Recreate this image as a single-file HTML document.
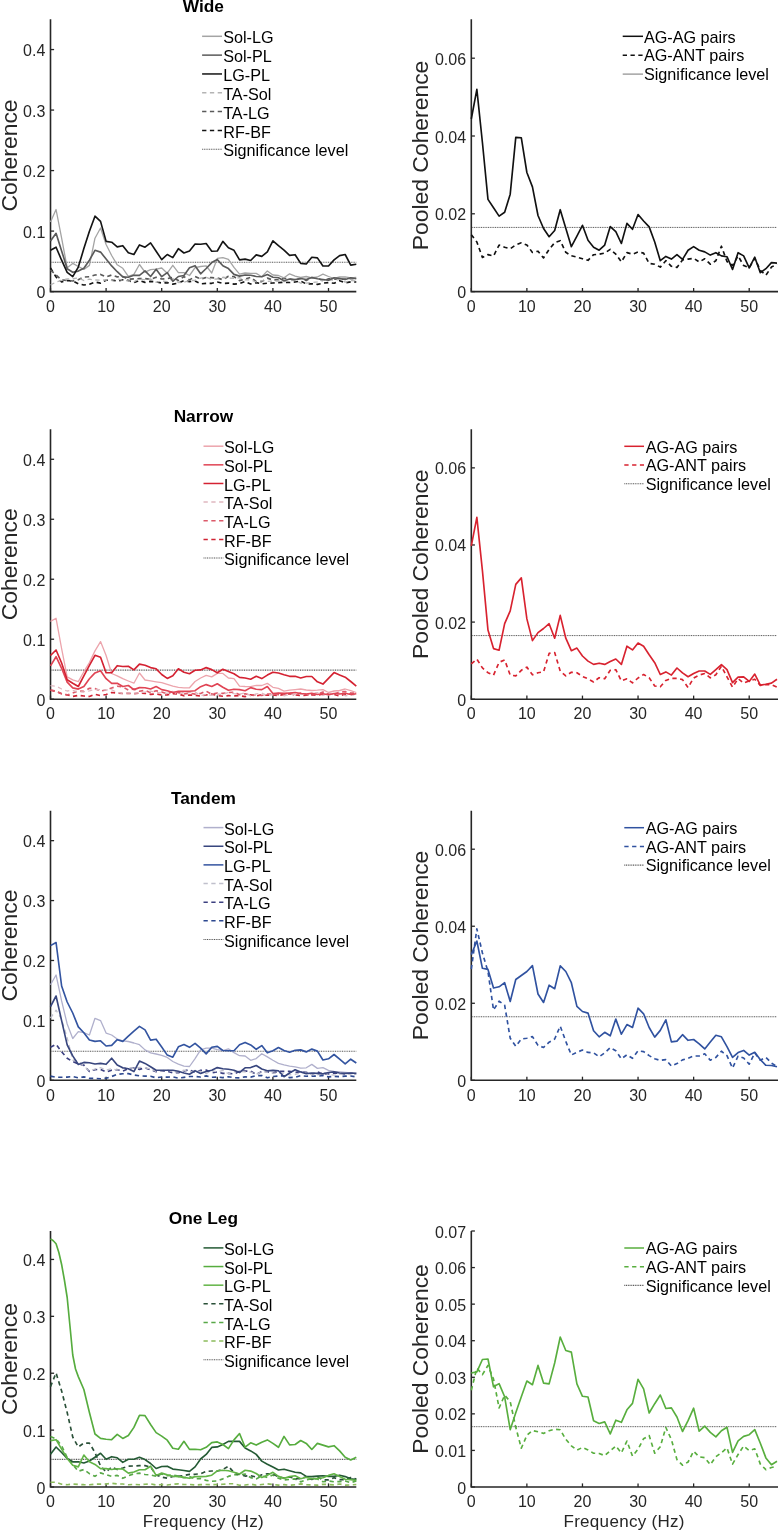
<!DOCTYPE html>
<html><head><meta charset="utf-8"><style>
html,body{margin:0;padding:0;background:#fff;overflow:hidden}
svg{display:block;will-change:transform}
text{font-family:"Liberation Sans", sans-serif}
</style></head><body>
<svg width="778" height="1531" viewBox="0 0 778 1531">
<rect width="778" height="1531" fill="#fff"/>
<line x1="50.5" y1="291.60" x2="54.1" y2="291.60" stroke="#262626" stroke-width="1.3"/>
<text x="45.30" y="298.10" text-anchor="end" font-size="16" fill="#262626">0</text>
<line x1="50.5" y1="231.09" x2="54.1" y2="231.09" stroke="#262626" stroke-width="1.3"/>
<text x="45.30" y="237.59" text-anchor="end" font-size="16" fill="#262626">0.1</text>
<line x1="50.5" y1="170.58" x2="54.1" y2="170.58" stroke="#262626" stroke-width="1.3"/>
<text x="45.30" y="177.08" text-anchor="end" font-size="16" fill="#262626">0.2</text>
<line x1="50.5" y1="110.07" x2="54.1" y2="110.07" stroke="#262626" stroke-width="1.3"/>
<text x="45.30" y="116.57" text-anchor="end" font-size="16" fill="#262626">0.3</text>
<line x1="50.5" y1="49.56" x2="54.1" y2="49.56" stroke="#262626" stroke-width="1.3"/>
<text x="45.30" y="56.06" text-anchor="end" font-size="16" fill="#262626">0.4</text>
<line x1="50.50" y1="291.6" x2="50.50" y2="288.0" stroke="#262626" stroke-width="1.3"/>
<text x="50.50" y="311.80" text-anchor="middle" font-size="16" fill="#262626">0</text>
<line x1="106.10" y1="291.6" x2="106.10" y2="288.0" stroke="#262626" stroke-width="1.3"/>
<text x="106.10" y="311.80" text-anchor="middle" font-size="16" fill="#262626">10</text>
<line x1="161.70" y1="291.6" x2="161.70" y2="288.0" stroke="#262626" stroke-width="1.3"/>
<text x="161.70" y="311.80" text-anchor="middle" font-size="16" fill="#262626">20</text>
<line x1="217.30" y1="291.6" x2="217.30" y2="288.0" stroke="#262626" stroke-width="1.3"/>
<text x="217.30" y="311.80" text-anchor="middle" font-size="16" fill="#262626">30</text>
<line x1="272.90" y1="291.6" x2="272.90" y2="288.0" stroke="#262626" stroke-width="1.3"/>
<text x="272.90" y="311.80" text-anchor="middle" font-size="16" fill="#262626">40</text>
<line x1="328.50" y1="291.6" x2="328.50" y2="288.0" stroke="#262626" stroke-width="1.3"/>
<text x="328.50" y="311.80" text-anchor="middle" font-size="16" fill="#262626">50</text>
<path d="M50.5 19.3 L50.5 291.6 L356.3 291.6" fill="none" stroke="#262626" stroke-width="1.6"/>
<text x="17.2" y="155.45" transform="rotate(-90 17.2 155.45)" text-anchor="middle" font-size="22.9" fill="#262626">Coherence</text>
<text x="203.40" y="12.30" text-anchor="middle" font-size="17.3" font-weight="bold" fill="#000">Wide</text>
<line x1="202.1" y1="36.30" x2="222.0" y2="36.30" stroke="#a4a4a4" stroke-width="1.5"/>
<text x="223.2" y="43.40" font-size="16.2" fill="#000">Sol-LG</text>
<line x1="202.1" y1="55.13" x2="222.0" y2="55.13" stroke="#5a5a5a" stroke-width="1.5"/>
<text x="223.2" y="62.23" font-size="16.2" fill="#000">Sol-PL</text>
<line x1="202.1" y1="73.96" x2="222.0" y2="73.96" stroke="#141414" stroke-width="1.5"/>
<text x="223.2" y="81.06" font-size="16.2" fill="#000">LG-PL</text>
<line x1="202.1" y1="92.79" x2="222.0" y2="92.79" stroke="#b4b4b4" stroke-width="1.5" stroke-dasharray="4.3 3.5"/>
<text x="223.2" y="99.89" font-size="16.2" fill="#000">TA-Sol</text>
<line x1="202.1" y1="111.62" x2="222.0" y2="111.62" stroke="#5a5a5a" stroke-width="1.5" stroke-dasharray="4.3 3.5"/>
<text x="223.2" y="118.72" font-size="16.2" fill="#000">TA-LG</text>
<line x1="202.1" y1="130.45" x2="222.0" y2="130.45" stroke="#141414" stroke-width="1.5" stroke-dasharray="4.3 3.5"/>
<text x="223.2" y="137.55" font-size="16.2" fill="#000">RF-BF</text>
<line x1="202.1" y1="149.28" x2="222.0" y2="149.28" stroke="#555" stroke-width="1.1" stroke-dasharray="1 0.75"/>
<text x="223.2" y="156.38" font-size="16.2" fill="#000">Significance level</text>
<line x1="51.5" y1="262.25" x2="356.3" y2="262.25" stroke="#5a5a5a" stroke-width="1.1" stroke-dasharray="1 0.75"/>
<polyline points="50.50,268.00 56.06,277.00 61.62,282.00 67.18,280.54 72.74,281.00 78.30,283.74 83.86,285.00 89.42,284.24 94.98,282.00 100.54,283.15 106.10,280.24 111.66,280.17 117.22,281.00 122.78,279.84 128.34,280.40 133.90,282.69 139.46,280.52 145.02,282.38 150.58,281.36 156.14,281.93 161.70,283.00 167.26,282.63 172.82,284.15 178.38,283.13 183.94,280.66 189.50,281.60 195.06,280.99 200.62,283.79 206.18,283.44 211.74,283.32 217.30,282.00 222.86,283.41 228.42,283.18 233.98,284.10 239.54,283.58 245.10,281.53 250.66,284.00 256.22,282.65 261.78,283.82 267.34,283.16 272.90,283.00 278.46,282.65 284.02,282.32 289.58,282.52 295.14,281.99 300.70,281.14 306.26,283.88 311.82,283.73 317.38,284.41 322.94,283.16 328.50,282.55 334.06,283.26 339.62,280.74 345.18,282.84 350.74,281.84 356.30,282.00" fill="none" stroke="#141414" stroke-width="1.65" stroke-linejoin="round" stroke-dasharray="4.3 3.5"/>
<polyline points="50.50,270.00 56.06,275.00 61.62,280.00 67.18,280.39 72.74,281.00 78.30,279.69 83.86,277.00 89.42,276.73 94.98,275.00 100.54,274.43 106.10,277.00 111.66,275.05 117.22,276.85 122.78,276.61 128.34,279.17 133.90,278.84 139.46,278.65 145.02,278.66 150.58,279.31 156.14,277.24 161.70,279.00 167.26,278.64 172.82,277.31 178.38,280.49 183.94,276.66 189.50,279.90 195.06,276.53 200.62,279.12 206.18,277.48 211.74,277.68 217.30,278.00 222.86,279.71 228.42,276.28 233.98,276.67 239.54,280.63 245.10,279.04 250.66,277.40 256.22,281.54 261.78,281.57 267.34,278.10 272.90,280.00 278.46,279.60 284.02,278.26 289.58,278.98 295.14,280.27 300.70,278.19 306.26,280.47 311.82,277.56 317.38,278.02 322.94,280.79 328.50,278.90 334.06,278.91 339.62,279.62 345.18,279.03 350.74,278.56 356.30,279.00" fill="none" stroke="#5a5a5a" stroke-width="1.65" stroke-linejoin="round" stroke-dasharray="4.3 3.5"/>
<polyline points="50.50,285.00 56.06,282.00 61.62,280.29 67.18,279.00 72.74,278.76 78.30,278.00 83.86,280.53 89.42,279.18 94.98,280.00 100.54,280.03 106.10,280.00 111.66,280.48 117.22,278.81 122.78,280.35 128.34,280.97 133.90,281.79 139.46,278.81 145.02,279.83 150.58,279.00 156.14,282.26 161.70,281.00 167.26,281.65 172.82,278.58 178.38,282.52 183.94,282.24 189.50,280.68 195.06,280.31 200.62,278.09 206.18,277.27 211.74,279.32 217.30,279.00 222.86,277.26 228.42,278.04 233.98,278.46 239.54,277.73 245.10,279.84 250.66,279.94 256.22,281.91 261.78,280.68 267.34,281.42 272.90,281.00 278.46,281.00 284.02,281.71 289.58,280.81 295.14,280.02 300.70,283.19 306.26,283.18 311.82,282.50 317.38,281.91 322.94,280.19 328.50,279.81 334.06,280.07 339.62,279.11 345.18,282.17 350.74,280.56 356.30,281.00" fill="none" stroke="#b4b4b4" stroke-width="1.3" stroke-linejoin="round" stroke-dasharray="4.3 3.5"/>
<polyline points="50.50,222.00 56.06,209.50 61.62,238.20 67.18,267.70 72.74,263.40 78.30,266.50 83.86,269.40 89.42,265.40 94.98,238.20 100.54,228.00 106.10,244.50 111.66,255.50 117.22,264.80 122.78,268.30 128.34,276.40 133.90,274.40 139.46,264.50 145.02,272.10 150.58,269.70 156.14,269.20 161.70,268.00 167.26,273.20 172.82,265.30 178.38,272.60 183.94,272.60 189.50,275.50 195.06,267.70 200.62,266.50 206.18,265.90 211.74,273.00 217.30,258.40 222.86,257.60 228.42,259.30 233.98,267.40 239.54,274.10 245.10,273.00 250.66,273.40 256.22,273.40 261.78,276.70 267.34,270.90 272.90,275.00 278.46,275.50 284.02,277.80 289.58,273.80 295.14,276.10 300.70,277.50 306.26,276.50 311.82,278.00 317.38,277.00 322.94,274.10 328.50,276.50 334.06,278.50 339.62,277.00 345.18,276.90 350.74,278.00 356.30,277.50" fill="none" stroke="#a4a4a4" stroke-width="1.3" stroke-linejoin="round"/>
<polyline points="50.50,241.10 56.06,233.30 61.62,250.90 67.18,268.80 72.74,272.30 78.30,271.10 83.86,268.30 89.42,260.20 94.98,250.30 100.54,252.10 106.10,259.00 111.66,265.90 117.22,271.70 122.78,276.90 128.34,277.30 133.90,275.30 139.46,275.30 145.02,270.90 150.58,276.50 156.14,269.20 161.70,276.70 167.26,272.60 172.82,281.30 178.38,276.50 183.94,275.50 189.50,267.70 195.06,265.70 200.62,273.80 206.18,268.50 211.74,262.60 217.30,259.60 222.86,265.70 228.42,268.60 233.98,274.40 239.54,276.10 245.10,275.00 250.66,275.30 256.22,276.50 261.78,276.70 267.34,274.60 272.90,277.30 278.46,277.80 284.02,280.70 289.58,279.00 295.14,279.60 300.70,278.50 306.26,279.50 311.82,277.50 317.38,278.80 322.94,279.50 328.50,280.20 334.06,277.80 339.62,278.50 345.18,279.50 350.74,277.80 356.30,278.80" fill="none" stroke="#5a5a5a" stroke-width="1.65" stroke-linejoin="round"/>
<polyline points="50.50,250.30 56.06,247.20 61.62,260.20 67.18,272.30 72.74,276.60 78.30,267.10 83.86,248.60 89.42,231.20 94.98,216.20 100.54,221.40 106.10,241.40 111.66,242.20 117.22,246.90 122.78,245.70 128.34,252.80 133.90,254.50 139.46,244.90 145.02,247.20 150.58,242.90 156.14,251.20 161.70,259.60 167.26,254.50 172.82,257.60 178.38,248.70 183.94,253.00 189.50,251.00 195.06,244.10 200.62,244.30 206.18,243.50 211.74,251.20 217.30,251.00 222.86,241.40 228.42,247.80 233.98,250.30 239.54,259.90 245.10,259.10 250.66,260.50 256.22,254.90 261.78,256.40 267.34,251.80 272.90,240.80 278.46,245.70 284.02,250.20 289.58,255.40 295.14,254.70 300.70,263.40 306.26,264.00 311.82,257.30 317.38,257.90 322.94,266.00 328.50,266.00 334.06,259.90 339.62,255.60 345.18,254.50 350.74,265.10 356.30,264.20" fill="none" stroke="#141414" stroke-width="1.65" stroke-linejoin="round"/>
<line x1="471.3" y1="291.60" x2="474.90000000000003" y2="291.60" stroke="#262626" stroke-width="1.3"/>
<text x="466.10" y="298.10" text-anchor="end" font-size="16" fill="#262626">0</text>
<line x1="471.3" y1="213.80" x2="474.90000000000003" y2="213.80" stroke="#262626" stroke-width="1.3"/>
<text x="466.10" y="220.30" text-anchor="end" font-size="16" fill="#262626">0.02</text>
<line x1="471.3" y1="136.00" x2="474.90000000000003" y2="136.00" stroke="#262626" stroke-width="1.3"/>
<text x="466.10" y="142.50" text-anchor="end" font-size="16" fill="#262626">0.04</text>
<line x1="471.3" y1="58.20" x2="474.90000000000003" y2="58.20" stroke="#262626" stroke-width="1.3"/>
<text x="466.10" y="64.70" text-anchor="end" font-size="16" fill="#262626">0.06</text>
<line x1="471.30" y1="291.6" x2="471.30" y2="288.0" stroke="#262626" stroke-width="1.3"/>
<text x="471.30" y="311.80" text-anchor="middle" font-size="16" fill="#262626">0</text>
<line x1="526.88" y1="291.6" x2="526.88" y2="288.0" stroke="#262626" stroke-width="1.3"/>
<text x="526.88" y="311.80" text-anchor="middle" font-size="16" fill="#262626">10</text>
<line x1="582.46" y1="291.6" x2="582.46" y2="288.0" stroke="#262626" stroke-width="1.3"/>
<text x="582.46" y="311.80" text-anchor="middle" font-size="16" fill="#262626">20</text>
<line x1="638.05" y1="291.6" x2="638.05" y2="288.0" stroke="#262626" stroke-width="1.3"/>
<text x="638.05" y="311.80" text-anchor="middle" font-size="16" fill="#262626">30</text>
<line x1="693.63" y1="291.6" x2="693.63" y2="288.0" stroke="#262626" stroke-width="1.3"/>
<text x="693.63" y="311.80" text-anchor="middle" font-size="16" fill="#262626">40</text>
<line x1="749.21" y1="291.6" x2="749.21" y2="288.0" stroke="#262626" stroke-width="1.3"/>
<text x="749.21" y="311.80" text-anchor="middle" font-size="16" fill="#262626">50</text>
<path d="M471.3 19.3 L471.3 291.6 L779.0 291.6" fill="none" stroke="#262626" stroke-width="1.6"/>
<text x="428.3" y="155.45" transform="rotate(-90 428.3 155.45)" text-anchor="middle" font-size="22.9" fill="#262626">Pooled Coherence</text>
<line x1="472.3" y1="227.42" x2="777.0" y2="227.42" stroke="#555" stroke-width="1" stroke-dasharray="1 0.75"/>
<polyline points="471.30,234.70 476.86,242.00 482.42,257.50 487.97,254.60 493.53,256.00 499.09,245.00 504.65,247.20 510.21,248.70 515.77,245.00 521.32,242.80 526.88,245.00 532.44,252.40 538.00,251.20 543.56,257.90 549.11,249.40 554.67,242.70 560.23,240.70 565.79,252.30 571.35,255.80 576.91,257.10 582.46,258.70 588.02,260.30 593.58,254.70 599.14,254.20 604.70,253.10 610.25,249.40 615.81,254.20 621.37,261.90 626.93,252.60 632.49,254.20 638.05,252.00 643.60,253.10 649.16,263.50 654.72,264.20 660.28,267.10 665.84,260.70 671.39,266.30 676.95,267.40 682.51,259.90 688.07,259.10 693.63,258.30 699.19,262.00 704.74,258.80 710.30,264.20 715.86,260.70 721.42,246.20 726.98,261.50 732.53,265.50 738.09,255.90 743.65,265.50 749.21,267.90 754.77,258.30 760.33,270.30 765.88,275.20 771.44,267.10 777.00,264.20" fill="none" stroke="#111111" stroke-width="1.65" stroke-linejoin="round" stroke-dasharray="4.3 3.5"/>
<polyline points="471.30,119.00 476.86,89.30 482.42,142.50 487.97,199.40 493.53,207.80 499.09,216.10 504.65,212.30 510.21,194.20 515.77,137.40 521.32,137.80 526.88,172.50 532.44,186.90 538.00,215.50 543.56,228.50 549.11,236.70 554.67,230.50 560.23,209.70 565.79,228.20 571.35,246.70 576.91,236.20 582.46,225.30 588.02,240.30 593.58,247.20 599.14,250.20 604.70,245.10 610.25,226.60 615.81,231.70 621.37,243.50 626.93,223.40 632.49,229.30 638.05,214.50 643.60,221.00 649.16,226.90 654.72,242.00 660.28,260.70 665.84,256.40 671.39,259.10 676.95,254.70 682.51,259.40 688.07,250.30 693.63,246.60 699.19,250.30 704.74,251.90 710.30,255.10 715.86,252.70 721.42,255.90 726.98,256.70 732.53,269.50 738.09,252.70 743.65,255.90 749.21,267.90 754.77,257.20 760.33,272.70 765.88,268.70 771.44,262.60 777.00,263.10" fill="none" stroke="#111111" stroke-width="1.65" stroke-linejoin="round"/>
<line x1="622.7" y1="36.30" x2="643.0" y2="36.30" stroke="#111111" stroke-width="1.5"/>
<text x="643.9" y="42.50" font-size="16.2" fill="#000">AG-AG pairs</text>
<line x1="622.7" y1="55.20" x2="643.0" y2="55.20" stroke="#111111" stroke-width="1.5" stroke-dasharray="4.3 3.5"/>
<text x="643.9" y="61.40" font-size="16.2" fill="#000">AG-ANT pairs</text>
<line x1="622.7" y1="74.10" x2="643.0" y2="74.10" stroke="#8c8c8c" stroke-width="1.2"/>
<text x="643.9" y="80.30" font-size="16.2" fill="#000">Significance level</text>
<line x1="50.5" y1="699.20" x2="54.1" y2="699.20" stroke="#262626" stroke-width="1.3"/>
<text x="45.30" y="705.70" text-anchor="end" font-size="16" fill="#262626">0</text>
<line x1="50.5" y1="639.22" x2="54.1" y2="639.22" stroke="#262626" stroke-width="1.3"/>
<text x="45.30" y="645.72" text-anchor="end" font-size="16" fill="#262626">0.1</text>
<line x1="50.5" y1="579.24" x2="54.1" y2="579.24" stroke="#262626" stroke-width="1.3"/>
<text x="45.30" y="585.74" text-anchor="end" font-size="16" fill="#262626">0.2</text>
<line x1="50.5" y1="519.27" x2="54.1" y2="519.27" stroke="#262626" stroke-width="1.3"/>
<text x="45.30" y="525.77" text-anchor="end" font-size="16" fill="#262626">0.3</text>
<line x1="50.5" y1="459.29" x2="54.1" y2="459.29" stroke="#262626" stroke-width="1.3"/>
<text x="45.30" y="465.79" text-anchor="end" font-size="16" fill="#262626">0.4</text>
<line x1="50.50" y1="699.2" x2="50.50" y2="695.6" stroke="#262626" stroke-width="1.3"/>
<text x="50.50" y="719.40" text-anchor="middle" font-size="16" fill="#262626">0</text>
<line x1="106.10" y1="699.2" x2="106.10" y2="695.6" stroke="#262626" stroke-width="1.3"/>
<text x="106.10" y="719.40" text-anchor="middle" font-size="16" fill="#262626">10</text>
<line x1="161.70" y1="699.2" x2="161.70" y2="695.6" stroke="#262626" stroke-width="1.3"/>
<text x="161.70" y="719.40" text-anchor="middle" font-size="16" fill="#262626">20</text>
<line x1="217.30" y1="699.2" x2="217.30" y2="695.6" stroke="#262626" stroke-width="1.3"/>
<text x="217.30" y="719.40" text-anchor="middle" font-size="16" fill="#262626">30</text>
<line x1="272.90" y1="699.2" x2="272.90" y2="695.6" stroke="#262626" stroke-width="1.3"/>
<text x="272.90" y="719.40" text-anchor="middle" font-size="16" fill="#262626">40</text>
<line x1="328.50" y1="699.2" x2="328.50" y2="695.6" stroke="#262626" stroke-width="1.3"/>
<text x="328.50" y="719.40" text-anchor="middle" font-size="16" fill="#262626">50</text>
<path d="M50.5 429.3 L50.5 699.2 L356.3 699.2" fill="none" stroke="#262626" stroke-width="1.6"/>
<text x="17.2" y="564.25" transform="rotate(-90 17.2 564.25)" text-anchor="middle" font-size="22.9" fill="#262626">Coherence</text>
<text x="203.40" y="422.30" text-anchor="middle" font-size="17.3" font-weight="bold" fill="#000">Narrow</text>
<line x1="203.5" y1="446.20" x2="223.4" y2="446.20" stroke="#eca4ac" stroke-width="1.5"/>
<text x="224.0" y="453.30" font-size="16.2" fill="#000">Sol-LG</text>
<line x1="203.5" y1="464.84" x2="223.4" y2="464.84" stroke="#e04454" stroke-width="1.5"/>
<text x="224.0" y="471.94" font-size="16.2" fill="#000">Sol-PL</text>
<line x1="203.5" y1="483.48" x2="223.4" y2="483.48" stroke="#d42232" stroke-width="1.5"/>
<text x="224.0" y="490.58" font-size="16.2" fill="#000">LG-PL</text>
<line x1="203.5" y1="502.12" x2="223.4" y2="502.12" stroke="#e0b8c0" stroke-width="1.5" stroke-dasharray="4.3 3.5"/>
<text x="224.0" y="509.22" font-size="16.2" fill="#000">TA-Sol</text>
<line x1="203.5" y1="520.76" x2="223.4" y2="520.76" stroke="#dc5a6a" stroke-width="1.5" stroke-dasharray="4.3 3.5"/>
<text x="224.0" y="527.86" font-size="16.2" fill="#000">TA-LG</text>
<line x1="203.5" y1="539.40" x2="223.4" y2="539.40" stroke="#d02434" stroke-width="1.5" stroke-dasharray="4.3 3.5"/>
<text x="224.0" y="546.50" font-size="16.2" fill="#000">RF-BF</text>
<line x1="203.5" y1="558.04" x2="223.4" y2="558.04" stroke="#555" stroke-width="1.1" stroke-dasharray="1 0.75"/>
<text x="224.0" y="565.14" font-size="16.2" fill="#000">Significance level</text>
<line x1="51.5" y1="670.11" x2="356.3" y2="670.11" stroke="#5a5a5a" stroke-width="1.1" stroke-dasharray="1 0.75"/>
<polyline points="50.50,690.20 56.06,691.40 61.62,693.70 67.18,694.90 72.74,696.42 78.30,695.40 83.86,696.00 89.42,696.50 94.98,694.30 100.54,695.58 106.10,694.50 111.66,692.50 117.22,693.00 122.78,693.53 128.34,693.27 133.90,693.84 139.46,692.89 145.02,693.33 150.58,694.33 156.14,693.91 161.70,695.00 167.26,694.92 172.82,693.67 178.38,693.91 183.94,695.83 189.50,695.01 195.06,695.34 200.62,696.05 206.18,694.98 211.74,694.12 217.30,695.50 222.86,696.30 228.42,695.67 233.98,695.82 239.54,695.66 245.10,696.66 250.66,694.79 256.22,695.93 261.78,694.71 267.34,695.27 272.90,695.00 278.46,695.48 284.02,694.44 289.58,693.76 295.14,694.92 300.70,695.65 306.26,695.27 311.82,694.84 317.38,695.43 322.94,694.05 328.50,694.04 334.06,694.47 339.62,695.95 345.18,694.09 350.74,693.84 356.30,695.00" fill="none" stroke="#d02434" stroke-width="1.65" stroke-linejoin="round" stroke-dasharray="4.3 3.5"/>
<polyline points="50.50,690.00 56.06,691.00 61.62,693.70 67.18,695.00 72.74,693.00 78.30,690.91 83.86,691.40 89.42,688.24 94.98,688.50 100.54,691.05 106.10,690.00 111.66,688.00 117.22,686.20 122.78,686.96 128.34,690.00 133.90,688.97 139.46,691.21 145.02,690.44 150.58,692.74 156.14,690.70 161.70,692.00 167.26,693.75 172.82,691.55 178.38,692.66 183.94,693.96 189.50,693.17 195.06,694.13 200.62,693.45 206.18,691.17 211.74,694.27 217.30,693.00 222.86,693.42 228.42,692.52 233.98,692.18 239.54,694.66 245.10,693.80 250.66,695.18 256.22,694.69 261.78,695.46 267.34,694.14 272.90,694.00 278.46,694.65 284.02,694.27 289.58,692.93 295.14,695.38 300.70,692.99 306.26,694.61 311.82,695.17 317.38,694.01 322.94,692.11 328.50,694.50 334.06,693.87 339.62,692.07 345.18,691.51 350.74,693.18 356.30,693.00" fill="none" stroke="#dc5a6a" stroke-width="1.65" stroke-linejoin="round" stroke-dasharray="4.3 3.5"/>
<polyline points="50.50,685.60 56.06,686.20 61.62,689.00 67.18,691.00 72.74,690.29 78.30,692.00 83.86,691.85 89.42,690.82 94.98,689.50 100.54,689.67 106.10,690.00 111.66,689.73 117.22,692.55 122.78,693.36 128.34,693.00 133.90,693.04 139.46,693.02 145.02,692.05 150.58,691.21 156.14,692.54 161.70,693.00 167.26,693.41 172.82,691.65 178.38,694.36 183.94,692.44 189.50,692.54 195.06,691.95 200.62,695.49 206.18,694.66 211.74,695.25 217.30,694.00 222.86,694.47 228.42,692.42 233.98,693.53 239.54,694.19 245.10,692.87 250.66,695.93 256.22,693.88 261.78,693.16 267.34,695.59 272.90,694.50 278.46,693.12 284.02,695.97 289.58,694.23 295.14,694.55 300.70,693.77 306.26,694.24 311.82,693.14 317.38,692.57 322.94,695.52 328.50,693.21 334.06,695.14 339.62,693.05 345.18,695.75 350.74,695.45 356.30,694.00" fill="none" stroke="#e0b8c0" stroke-width="1.3" stroke-linejoin="round" stroke-dasharray="4.3 3.5"/>
<polyline points="50.50,621.40 56.06,618.30 61.62,648.60 67.18,676.90 72.74,679.80 78.30,681.60 83.86,671.70 89.42,662.50 94.98,650.90 100.54,641.60 106.10,655.50 111.66,673.50 117.22,675.80 122.78,678.70 128.34,681.00 133.90,683.20 139.46,673.00 145.02,680.00 150.58,680.90 156.14,681.80 161.70,682.60 167.26,684.40 172.82,686.10 178.38,687.30 183.94,687.80 189.50,687.80 195.06,681.50 200.62,678.00 206.18,675.30 211.74,676.90 217.30,673.40 222.86,673.40 228.42,678.00 233.98,678.60 239.54,686.10 245.10,686.50 250.66,686.70 256.22,685.30 261.78,685.50 267.34,683.40 272.90,687.30 278.46,688.40 284.02,691.10 289.58,690.20 295.14,689.60 300.70,689.00 306.26,690.00 311.82,690.50 317.38,690.20 322.94,689.60 328.50,692.50 334.06,691.00 339.62,690.50 345.18,689.00 350.74,690.70 356.30,692.50" fill="none" stroke="#eca4ac" stroke-width="1.3" stroke-linejoin="round"/>
<polyline points="50.50,665.90 56.06,656.70 61.62,668.30 67.18,682.10 72.74,687.90 78.30,689.10 83.86,686.50 89.42,678.70 94.98,672.90 100.54,670.80 106.10,678.70 111.66,683.30 117.22,683.30 122.78,686.50 128.34,685.50 133.90,689.60 139.46,687.60 145.02,687.80 150.58,689.00 156.14,686.50 161.70,689.60 167.26,690.70 172.82,692.50 178.38,691.30 183.94,691.30 189.50,691.30 195.06,690.70 200.62,686.70 206.18,684.60 211.74,686.50 217.30,683.80 222.86,687.30 228.42,690.20 233.98,689.20 239.54,689.60 245.10,690.70 250.66,687.60 256.22,689.20 261.78,689.60 267.34,686.50 272.90,693.60 278.46,693.00 284.02,693.40 289.58,693.00 295.14,692.50 300.70,693.50 306.26,694.00 311.82,693.20 317.38,694.50 322.94,693.80 328.50,694.80 334.06,693.50 339.62,694.00 345.18,693.20 350.74,694.50 356.30,693.80" fill="none" stroke="#e04454" stroke-width="1.65" stroke-linejoin="round"/>
<polyline points="50.50,655.50 56.06,650.00 61.62,663.00 67.18,679.80 72.74,683.30 78.30,686.50 83.86,675.80 89.42,665.40 94.98,655.30 100.54,657.30 106.10,672.70 111.66,672.70 117.22,665.70 122.78,666.50 128.34,666.30 133.90,669.90 139.46,664.10 145.02,665.30 150.58,667.60 156.14,668.80 161.70,674.50 167.26,678.40 172.82,675.70 178.38,668.80 183.94,672.20 189.50,673.70 195.06,670.30 200.62,669.90 206.18,667.60 211.74,669.60 217.30,672.80 222.86,669.30 228.42,671.60 233.98,673.70 239.54,677.40 245.10,678.00 250.66,679.20 256.22,676.30 261.78,678.60 267.34,675.10 272.90,672.20 278.46,673.00 284.02,674.80 289.58,676.30 295.14,676.30 300.70,678.00 306.26,676.50 311.82,676.50 317.38,681.80 322.94,684.10 328.50,678.40 334.06,672.60 339.62,675.10 345.18,677.20 350.74,681.50 356.30,686.10" fill="none" stroke="#d42232" stroke-width="1.65" stroke-linejoin="round"/>
<line x1="471.3" y1="699.20" x2="474.90000000000003" y2="699.20" stroke="#262626" stroke-width="1.3"/>
<text x="466.10" y="705.70" text-anchor="end" font-size="16" fill="#262626">0</text>
<line x1="471.3" y1="622.09" x2="474.90000000000003" y2="622.09" stroke="#262626" stroke-width="1.3"/>
<text x="466.10" y="628.59" text-anchor="end" font-size="16" fill="#262626">0.02</text>
<line x1="471.3" y1="544.97" x2="474.90000000000003" y2="544.97" stroke="#262626" stroke-width="1.3"/>
<text x="466.10" y="551.47" text-anchor="end" font-size="16" fill="#262626">0.04</text>
<line x1="471.3" y1="467.86" x2="474.90000000000003" y2="467.86" stroke="#262626" stroke-width="1.3"/>
<text x="466.10" y="474.36" text-anchor="end" font-size="16" fill="#262626">0.06</text>
<line x1="471.30" y1="699.2" x2="471.30" y2="695.6" stroke="#262626" stroke-width="1.3"/>
<text x="471.30" y="719.40" text-anchor="middle" font-size="16" fill="#262626">0</text>
<line x1="526.88" y1="699.2" x2="526.88" y2="695.6" stroke="#262626" stroke-width="1.3"/>
<text x="526.88" y="719.40" text-anchor="middle" font-size="16" fill="#262626">10</text>
<line x1="582.46" y1="699.2" x2="582.46" y2="695.6" stroke="#262626" stroke-width="1.3"/>
<text x="582.46" y="719.40" text-anchor="middle" font-size="16" fill="#262626">20</text>
<line x1="638.05" y1="699.2" x2="638.05" y2="695.6" stroke="#262626" stroke-width="1.3"/>
<text x="638.05" y="719.40" text-anchor="middle" font-size="16" fill="#262626">30</text>
<line x1="693.63" y1="699.2" x2="693.63" y2="695.6" stroke="#262626" stroke-width="1.3"/>
<text x="693.63" y="719.40" text-anchor="middle" font-size="16" fill="#262626">40</text>
<line x1="749.21" y1="699.2" x2="749.21" y2="695.6" stroke="#262626" stroke-width="1.3"/>
<text x="749.21" y="719.40" text-anchor="middle" font-size="16" fill="#262626">50</text>
<path d="M471.3 429.3 L471.3 699.2 L779.0 699.2" fill="none" stroke="#262626" stroke-width="1.6"/>
<text x="428.3" y="564.25" transform="rotate(-90 428.3 564.25)" text-anchor="middle" font-size="22.9" fill="#262626">Pooled Coherence</text>
<line x1="472.3" y1="635.58" x2="777.0" y2="635.58" stroke="#555" stroke-width="1" stroke-dasharray="1 0.75"/>
<polyline points="471.30,663.90 476.86,659.10 482.42,667.90 487.97,672.70 493.53,675.10 499.09,662.30 504.65,659.90 510.21,675.10 515.77,675.90 521.32,670.30 526.88,667.10 532.44,674.80 538.00,672.70 543.56,671.90 549.11,653.40 554.67,652.60 560.23,671.10 565.79,675.90 571.35,672.20 576.91,672.70 582.46,676.50 588.02,678.80 593.58,682.00 599.14,677.70 604.70,678.80 610.25,670.30 615.81,669.70 621.37,680.90 626.93,678.80 632.49,682.80 638.05,678.00 643.60,674.50 649.16,677.70 654.72,686.00 660.28,686.80 665.84,680.40 671.39,678.30 676.95,678.30 682.51,679.60 688.07,687.60 693.63,678.00 699.19,675.00 704.74,673.50 710.30,677.80 715.86,674.70 721.42,666.20 726.98,676.90 732.53,687.10 738.09,678.60 743.65,683.10 749.21,680.90 754.77,679.20 760.33,685.40 765.88,684.60 771.44,684.80 777.00,687.10" fill="none" stroke="#d8222f" stroke-width="1.65" stroke-linejoin="round" stroke-dasharray="4.3 3.5"/>
<polyline points="471.30,545.80 476.86,517.40 482.42,570.70 487.97,630.10 493.53,648.60 499.09,650.20 504.65,623.70 510.21,610.90 515.77,584.40 521.32,577.90 526.88,618.90 532.44,640.60 538.00,632.60 543.56,628.50 549.11,623.70 554.67,638.20 560.23,615.40 565.79,638.20 571.35,650.70 576.91,648.10 582.46,656.00 588.02,661.10 593.58,664.40 599.14,663.20 604.70,664.40 610.25,661.60 615.81,659.00 621.37,664.40 626.93,646.20 632.49,649.90 638.05,643.00 643.60,646.20 649.16,654.70 654.72,662.70 660.28,674.50 665.84,671.90 671.39,675.10 676.95,668.00 682.51,672.90 688.07,676.70 693.63,673.50 699.19,671.00 704.74,671.00 710.30,674.40 715.86,669.60 721.42,664.70 726.98,669.60 732.53,682.60 738.09,677.10 743.65,676.90 749.21,681.40 754.77,674.10 760.33,685.10 765.88,684.30 771.44,683.10 777.00,679.20" fill="none" stroke="#d8222f" stroke-width="1.65" stroke-linejoin="round"/>
<line x1="624.3" y1="446.30" x2="644.0" y2="446.30" stroke="#d8222f" stroke-width="1.5"/>
<text x="645.7" y="452.50" font-size="16.2" fill="#000">AG-AG pairs</text>
<line x1="624.3" y1="465.00" x2="644.0" y2="465.00" stroke="#d8222f" stroke-width="1.5" stroke-dasharray="4.3 3.5"/>
<text x="645.7" y="471.20" font-size="16.2" fill="#000">AG-ANT pairs</text>
<line x1="624.3" y1="483.70" x2="644.0" y2="483.70" stroke="#555" stroke-width="1.1" stroke-dasharray="1 0.75"/>
<text x="645.7" y="489.90" font-size="16.2" fill="#000">Significance level</text>
<line x1="50.5" y1="1080.30" x2="54.1" y2="1080.30" stroke="#262626" stroke-width="1.3"/>
<text x="45.30" y="1086.80" text-anchor="end" font-size="16" fill="#262626">0</text>
<line x1="50.5" y1="1020.39" x2="54.1" y2="1020.39" stroke="#262626" stroke-width="1.3"/>
<text x="45.30" y="1026.89" text-anchor="end" font-size="16" fill="#262626">0.1</text>
<line x1="50.5" y1="960.48" x2="54.1" y2="960.48" stroke="#262626" stroke-width="1.3"/>
<text x="45.30" y="966.98" text-anchor="end" font-size="16" fill="#262626">0.2</text>
<line x1="50.5" y1="900.57" x2="54.1" y2="900.57" stroke="#262626" stroke-width="1.3"/>
<text x="45.30" y="907.07" text-anchor="end" font-size="16" fill="#262626">0.3</text>
<line x1="50.5" y1="840.66" x2="54.1" y2="840.66" stroke="#262626" stroke-width="1.3"/>
<text x="45.30" y="847.16" text-anchor="end" font-size="16" fill="#262626">0.4</text>
<line x1="50.50" y1="1080.3" x2="50.50" y2="1076.7" stroke="#262626" stroke-width="1.3"/>
<text x="50.50" y="1100.50" text-anchor="middle" font-size="16" fill="#262626">0</text>
<line x1="106.10" y1="1080.3" x2="106.10" y2="1076.7" stroke="#262626" stroke-width="1.3"/>
<text x="106.10" y="1100.50" text-anchor="middle" font-size="16" fill="#262626">10</text>
<line x1="161.70" y1="1080.3" x2="161.70" y2="1076.7" stroke="#262626" stroke-width="1.3"/>
<text x="161.70" y="1100.50" text-anchor="middle" font-size="16" fill="#262626">20</text>
<line x1="217.30" y1="1080.3" x2="217.30" y2="1076.7" stroke="#262626" stroke-width="1.3"/>
<text x="217.30" y="1100.50" text-anchor="middle" font-size="16" fill="#262626">30</text>
<line x1="272.90" y1="1080.3" x2="272.90" y2="1076.7" stroke="#262626" stroke-width="1.3"/>
<text x="272.90" y="1100.50" text-anchor="middle" font-size="16" fill="#262626">40</text>
<line x1="328.50" y1="1080.3" x2="328.50" y2="1076.7" stroke="#262626" stroke-width="1.3"/>
<text x="328.50" y="1100.50" text-anchor="middle" font-size="16" fill="#262626">50</text>
<path d="M50.5 810.7 L50.5 1080.3 L356.3 1080.3" fill="none" stroke="#262626" stroke-width="1.6"/>
<text x="17.2" y="945.50" transform="rotate(-90 17.2 945.50)" text-anchor="middle" font-size="22.9" fill="#262626">Coherence</text>
<text x="203.40" y="803.70" text-anchor="middle" font-size="17.3" font-weight="bold" fill="#000">Tandem</text>
<line x1="203.5" y1="827.60" x2="223.4" y2="827.60" stroke="#b0b0cc" stroke-width="1.5"/>
<text x="224.0" y="834.70" font-size="16.2" fill="#000">Sol-LG</text>
<line x1="203.5" y1="846.24" x2="223.4" y2="846.24" stroke="#38467e" stroke-width="1.5"/>
<text x="224.0" y="853.34" font-size="16.2" fill="#000">Sol-PL</text>
<line x1="203.5" y1="864.88" x2="223.4" y2="864.88" stroke="#3354a0" stroke-width="1.5"/>
<text x="224.0" y="871.98" font-size="16.2" fill="#000">LG-PL</text>
<line x1="203.5" y1="883.52" x2="223.4" y2="883.52" stroke="#c0c0cc" stroke-width="1.5" stroke-dasharray="4.3 3.5"/>
<text x="224.0" y="890.62" font-size="16.2" fill="#000">TA-Sol</text>
<line x1="203.5" y1="902.16" x2="223.4" y2="902.16" stroke="#3c4080" stroke-width="1.5" stroke-dasharray="4.3 3.5"/>
<text x="224.0" y="909.26" font-size="16.2" fill="#000">TA-LG</text>
<line x1="203.5" y1="920.80" x2="223.4" y2="920.80" stroke="#2c4890" stroke-width="1.5" stroke-dasharray="4.3 3.5"/>
<text x="224.0" y="927.90" font-size="16.2" fill="#000">RF-BF</text>
<line x1="203.5" y1="939.44" x2="223.4" y2="939.44" stroke="#555" stroke-width="1.1" stroke-dasharray="1 0.75"/>
<text x="224.0" y="946.54" font-size="16.2" fill="#000">Significance level</text>
<line x1="51.5" y1="1051.24" x2="356.3" y2="1051.24" stroke="#5a5a5a" stroke-width="1.1" stroke-dasharray="1 0.75"/>
<polyline points="50.50,1076.10 56.06,1077.30 61.62,1077.22 67.18,1077.11 72.74,1076.50 78.30,1077.80 83.86,1076.87 89.42,1078.32 94.98,1078.40 100.54,1078.78 106.10,1078.20 111.66,1076.50 117.22,1074.40 122.78,1073.80 128.34,1073.58 133.90,1075.00 139.46,1075.79 145.02,1076.10 150.58,1076.21 156.14,1077.81 161.70,1077.00 167.26,1077.07 172.82,1076.86 178.38,1078.15 183.94,1077.35 189.50,1076.48 195.06,1076.50 200.62,1076.99 206.18,1075.84 211.74,1077.28 217.30,1077.00 222.86,1077.56 228.42,1076.71 233.98,1077.75 239.54,1077.91 245.10,1076.89 250.66,1077.17 256.22,1075.65 261.78,1075.45 267.34,1077.80 272.90,1076.50 278.46,1075.97 284.02,1075.82 289.58,1077.63 295.14,1077.28 300.70,1075.69 306.26,1076.24 311.82,1076.06 317.38,1076.18 322.94,1075.52 328.50,1076.90 334.06,1076.36 339.62,1076.62 345.18,1076.12 350.74,1075.95 356.30,1077.00" fill="none" stroke="#2c4890" stroke-width="1.65" stroke-linejoin="round" stroke-dasharray="4.3 3.5"/>
<polyline points="50.50,1047.20 56.06,1044.30 61.62,1051.80 67.18,1058.20 72.74,1061.60 78.30,1064.00 83.86,1065.10 89.42,1071.50 94.98,1069.70 100.54,1069.33 106.10,1072.00 111.66,1070.17 117.22,1069.69 122.78,1071.04 128.34,1068.79 133.90,1068.00 139.46,1069.39 145.02,1067.76 150.58,1069.83 156.14,1071.64 161.70,1071.00 167.26,1071.18 172.82,1072.80 178.38,1072.67 183.94,1070.94 189.50,1069.70 195.06,1072.52 200.62,1070.36 206.18,1070.03 211.74,1072.73 217.30,1072.00 222.86,1073.33 228.42,1073.41 233.98,1073.93 239.54,1071.33 245.10,1070.99 250.66,1071.23 256.22,1074.42 261.78,1071.40 267.34,1071.67 272.90,1073.00 278.46,1071.27 284.02,1071.38 289.58,1071.34 295.14,1072.47 300.70,1071.79 306.26,1072.31 311.82,1074.54 317.38,1071.80 322.94,1074.13 328.50,1073.86 334.06,1073.25 339.62,1073.27 345.18,1073.97 350.74,1073.31 356.30,1073.00" fill="none" stroke="#3c4080" stroke-width="1.65" stroke-linejoin="round" stroke-dasharray="4.3 3.5"/>
<polyline points="50.50,1018.00 56.06,1010.20 61.62,1019.40 67.18,1037.90 72.74,1060.00 78.30,1061.00 83.86,1066.00 89.42,1071.00 94.98,1069.00 100.54,1067.74 106.10,1070.00 111.66,1068.60 117.22,1070.00 122.78,1068.31 128.34,1067.40 133.90,1068.66 139.46,1067.30 145.02,1067.80 150.58,1068.83 156.14,1071.33 161.70,1071.00 167.26,1069.83 172.82,1072.07 178.38,1071.88 183.94,1070.09 189.50,1071.63 195.06,1071.41 200.62,1071.39 206.18,1073.59 211.74,1070.44 217.30,1072.00 222.86,1070.37 228.42,1073.78 233.98,1071.95 239.54,1071.31 245.10,1071.89 250.66,1072.11 256.22,1074.34 261.78,1071.76 267.34,1071.88 272.90,1073.00 278.46,1073.37 284.02,1073.30 289.58,1074.83 295.14,1074.49 300.70,1072.81 306.26,1072.33 311.82,1074.68 317.38,1075.29 322.94,1071.91 328.50,1074.51 334.06,1075.06 339.62,1074.34 345.18,1072.85 350.74,1075.00 356.30,1074.00" fill="none" stroke="#c0c0cc" stroke-width="1.3" stroke-linejoin="round" stroke-dasharray="4.3 3.5"/>
<polyline points="50.50,984.80 56.06,975.00 61.62,1000.90 67.18,1024.00 72.74,1038.50 78.30,1031.60 83.86,1032.70 89.42,1035.00 94.98,1018.30 100.54,1020.60 106.10,1033.10 111.66,1035.00 117.22,1039.10 122.78,1040.80 128.34,1041.50 133.90,1043.00 139.46,1044.70 145.02,1049.90 150.58,1052.80 156.14,1054.00 161.70,1055.30 167.26,1057.40 172.82,1061.50 178.38,1064.10 183.94,1066.10 189.50,1066.50 195.06,1058.60 200.62,1049.90 206.18,1048.20 211.74,1048.20 217.30,1049.60 222.86,1050.70 228.42,1048.80 233.98,1052.60 239.54,1055.70 245.10,1056.00 250.66,1060.30 256.22,1058.60 261.78,1053.70 267.34,1056.90 272.90,1060.30 278.46,1063.40 284.02,1064.90 289.58,1066.10 295.14,1066.90 300.70,1068.10 306.26,1067.80 311.82,1064.40 317.38,1068.40 322.94,1067.60 328.50,1070.40 334.06,1071.30 339.62,1071.90 345.18,1072.50 350.74,1073.00 356.30,1073.60" fill="none" stroke="#b0b0cc" stroke-width="1.3" stroke-linejoin="round"/>
<polyline points="50.50,1006.70 56.06,996.00 61.62,1020.60 67.18,1044.90 72.74,1055.90 78.30,1064.50 83.86,1062.40 89.42,1062.80 94.98,1064.00 100.54,1063.40 106.10,1064.30 111.66,1058.20 117.22,1065.10 122.78,1067.80 128.34,1068.80 133.90,1071.60 139.46,1061.10 145.02,1063.40 150.58,1066.70 156.14,1070.20 161.70,1070.20 167.26,1070.20 172.82,1070.20 178.38,1071.30 183.94,1073.00 189.50,1074.20 195.06,1070.70 200.62,1073.40 206.18,1071.50 211.74,1070.20 217.30,1067.60 222.86,1068.80 228.42,1069.20 233.98,1070.20 239.54,1072.50 245.10,1067.80 250.66,1067.60 256.22,1065.50 261.78,1069.00 267.34,1070.70 272.90,1070.40 278.46,1070.70 284.02,1076.70 289.58,1073.00 295.14,1069.80 300.70,1071.90 306.26,1073.60 311.82,1073.00 317.38,1073.40 322.94,1073.90 328.50,1072.50 334.06,1071.90 339.62,1073.00 345.18,1073.40 350.74,1073.00 356.30,1073.40" fill="none" stroke="#38467e" stroke-width="1.65" stroke-linejoin="round"/>
<polyline points="50.50,945.60 56.06,942.50 61.62,986.00 67.18,1002.00 72.74,1013.00 78.30,1026.90 83.86,1032.70 89.42,1040.00 94.98,1041.40 100.54,1040.80 106.10,1046.00 111.66,1045.40 117.22,1039.70 122.78,1041.40 128.34,1036.10 133.90,1031.10 139.46,1026.40 145.02,1029.90 150.58,1040.10 156.14,1039.20 161.70,1047.00 167.26,1055.10 172.82,1057.20 178.38,1046.80 183.94,1044.50 189.50,1047.30 195.06,1043.30 200.62,1048.20 206.18,1053.90 211.74,1047.30 217.30,1046.40 222.86,1050.50 228.42,1050.70 233.98,1050.70 239.54,1044.70 245.10,1042.40 250.66,1044.90 256.22,1049.30 261.78,1045.60 267.34,1052.80 272.90,1050.70 278.46,1047.50 284.02,1050.50 289.58,1052.20 295.14,1050.20 300.70,1049.90 306.26,1051.90 311.82,1049.10 317.38,1051.10 322.94,1060.00 328.50,1058.80 334.06,1054.50 339.62,1059.20 345.18,1063.80 350.74,1059.20 356.30,1063.00" fill="none" stroke="#3354a0" stroke-width="1.65" stroke-linejoin="round"/>
<line x1="471.3" y1="1080.30" x2="474.90000000000003" y2="1080.30" stroke="#262626" stroke-width="1.3"/>
<text x="466.10" y="1086.80" text-anchor="end" font-size="16" fill="#262626">0</text>
<line x1="471.3" y1="1003.27" x2="474.90000000000003" y2="1003.27" stroke="#262626" stroke-width="1.3"/>
<text x="466.10" y="1009.77" text-anchor="end" font-size="16" fill="#262626">0.02</text>
<line x1="471.3" y1="926.24" x2="474.90000000000003" y2="926.24" stroke="#262626" stroke-width="1.3"/>
<text x="466.10" y="932.74" text-anchor="end" font-size="16" fill="#262626">0.04</text>
<line x1="471.3" y1="849.21" x2="474.90000000000003" y2="849.21" stroke="#262626" stroke-width="1.3"/>
<text x="466.10" y="855.71" text-anchor="end" font-size="16" fill="#262626">0.06</text>
<line x1="471.30" y1="1080.3" x2="471.30" y2="1076.7" stroke="#262626" stroke-width="1.3"/>
<text x="471.30" y="1100.50" text-anchor="middle" font-size="16" fill="#262626">0</text>
<line x1="526.88" y1="1080.3" x2="526.88" y2="1076.7" stroke="#262626" stroke-width="1.3"/>
<text x="526.88" y="1100.50" text-anchor="middle" font-size="16" fill="#262626">10</text>
<line x1="582.46" y1="1080.3" x2="582.46" y2="1076.7" stroke="#262626" stroke-width="1.3"/>
<text x="582.46" y="1100.50" text-anchor="middle" font-size="16" fill="#262626">20</text>
<line x1="638.05" y1="1080.3" x2="638.05" y2="1076.7" stroke="#262626" stroke-width="1.3"/>
<text x="638.05" y="1100.50" text-anchor="middle" font-size="16" fill="#262626">30</text>
<line x1="693.63" y1="1080.3" x2="693.63" y2="1076.7" stroke="#262626" stroke-width="1.3"/>
<text x="693.63" y="1100.50" text-anchor="middle" font-size="16" fill="#262626">40</text>
<line x1="749.21" y1="1080.3" x2="749.21" y2="1076.7" stroke="#262626" stroke-width="1.3"/>
<text x="749.21" y="1100.50" text-anchor="middle" font-size="16" fill="#262626">50</text>
<path d="M471.3 810.7 L471.3 1080.3 L779.0 1080.3" fill="none" stroke="#262626" stroke-width="1.6"/>
<text x="428.3" y="945.50" transform="rotate(-90 428.3 945.50)" text-anchor="middle" font-size="22.9" fill="#262626">Pooled Coherence</text>
<line x1="472.3" y1="1016.75" x2="777.0" y2="1016.75" stroke="#555" stroke-width="1" stroke-dasharray="1 0.75"/>
<polyline points="471.30,969.10 476.86,928.90 482.42,953.00 487.97,971.50 493.53,1010.00 499.09,1001.20 504.65,1005.20 510.21,1038.20 515.77,1046.20 521.32,1039.00 526.88,1038.20 532.44,1036.60 538.00,1045.40 543.56,1047.50 549.11,1042.20 554.67,1039.00 560.23,1026.10 565.79,1041.40 571.35,1055.00 576.91,1052.30 582.46,1050.10 588.02,1052.40 593.58,1052.90 599.14,1056.70 604.70,1052.90 610.25,1047.60 615.81,1050.80 621.37,1058.80 626.93,1054.80 632.49,1058.30 638.05,1050.80 643.60,1051.60 649.16,1055.60 654.72,1058.80 660.28,1060.40 665.84,1059.60 671.39,1066.00 676.95,1063.60 682.51,1059.90 688.07,1058.30 693.63,1056.00 699.19,1056.00 704.74,1053.80 710.30,1060.20 715.86,1057.40 721.42,1051.20 726.98,1055.70 732.53,1068.10 738.09,1056.00 743.65,1058.00 749.21,1064.20 754.77,1052.90 760.33,1060.20 765.88,1057.40 771.44,1063.00 777.00,1066.70" fill="none" stroke="#3052a0" stroke-width="1.65" stroke-linejoin="round" stroke-dasharray="4.3 3.5"/>
<polyline points="471.30,954.60 476.86,941.00 482.42,968.30 487.97,969.40 493.53,988.00 499.09,986.80 504.65,982.70 510.21,1001.50 515.77,979.50 521.32,975.50 526.88,971.50 532.44,965.60 538.00,994.00 543.56,1002.50 549.11,985.20 554.67,988.70 560.23,965.90 565.79,971.50 571.35,982.70 576.91,1006.40 582.46,1011.50 588.02,1013.10 593.58,1030.70 599.14,1036.80 604.70,1032.30 610.25,1035.80 615.81,1019.10 621.37,1034.20 626.93,1024.60 632.49,1027.50 638.05,1008.20 643.60,1013.80 649.16,1027.50 654.72,1037.10 660.28,1030.40 665.84,1019.80 671.39,1041.90 676.95,1041.10 682.51,1034.70 688.07,1040.30 693.63,1039.50 699.19,1043.80 704.74,1048.90 710.30,1042.10 715.86,1035.30 721.42,1036.80 726.98,1046.60 732.53,1057.40 738.09,1052.60 743.65,1050.40 749.21,1055.10 754.77,1052.30 760.33,1059.70 765.88,1065.30 771.44,1065.50 777.00,1066.70" fill="none" stroke="#3052a0" stroke-width="1.65" stroke-linejoin="round"/>
<line x1="624.3" y1="827.70" x2="644.0" y2="827.70" stroke="#3052a0" stroke-width="1.5"/>
<text x="645.7" y="833.90" font-size="16.2" fill="#000">AG-AG pairs</text>
<line x1="624.3" y1="846.40" x2="644.0" y2="846.40" stroke="#3052a0" stroke-width="1.5" stroke-dasharray="4.3 3.5"/>
<text x="645.7" y="852.60" font-size="16.2" fill="#000">AG-ANT pairs</text>
<line x1="624.3" y1="865.10" x2="644.0" y2="865.10" stroke="#555" stroke-width="1.1" stroke-dasharray="1 0.75"/>
<text x="645.7" y="871.30" font-size="16.2" fill="#000">Significance level</text>
<line x1="50.5" y1="1487.00" x2="54.1" y2="1487.00" stroke="#262626" stroke-width="1.3"/>
<text x="45.30" y="1493.50" text-anchor="end" font-size="16" fill="#262626">0</text>
<line x1="50.5" y1="1430.11" x2="54.1" y2="1430.11" stroke="#262626" stroke-width="1.3"/>
<text x="45.30" y="1436.61" text-anchor="end" font-size="16" fill="#262626">0.1</text>
<line x1="50.5" y1="1373.22" x2="54.1" y2="1373.22" stroke="#262626" stroke-width="1.3"/>
<text x="45.30" y="1379.72" text-anchor="end" font-size="16" fill="#262626">0.2</text>
<line x1="50.5" y1="1316.33" x2="54.1" y2="1316.33" stroke="#262626" stroke-width="1.3"/>
<text x="45.30" y="1322.83" text-anchor="end" font-size="16" fill="#262626">0.3</text>
<line x1="50.5" y1="1259.44" x2="54.1" y2="1259.44" stroke="#262626" stroke-width="1.3"/>
<text x="45.30" y="1265.94" text-anchor="end" font-size="16" fill="#262626">0.4</text>
<line x1="50.50" y1="1487.0" x2="50.50" y2="1483.4" stroke="#262626" stroke-width="1.3"/>
<text x="50.50" y="1507.20" text-anchor="middle" font-size="16" fill="#262626">0</text>
<line x1="106.10" y1="1487.0" x2="106.10" y2="1483.4" stroke="#262626" stroke-width="1.3"/>
<text x="106.10" y="1507.20" text-anchor="middle" font-size="16" fill="#262626">10</text>
<line x1="161.70" y1="1487.0" x2="161.70" y2="1483.4" stroke="#262626" stroke-width="1.3"/>
<text x="161.70" y="1507.20" text-anchor="middle" font-size="16" fill="#262626">20</text>
<line x1="217.30" y1="1487.0" x2="217.30" y2="1483.4" stroke="#262626" stroke-width="1.3"/>
<text x="217.30" y="1507.20" text-anchor="middle" font-size="16" fill="#262626">30</text>
<line x1="272.90" y1="1487.0" x2="272.90" y2="1483.4" stroke="#262626" stroke-width="1.3"/>
<text x="272.90" y="1507.20" text-anchor="middle" font-size="16" fill="#262626">40</text>
<line x1="328.50" y1="1487.0" x2="328.50" y2="1483.4" stroke="#262626" stroke-width="1.3"/>
<text x="328.50" y="1507.20" text-anchor="middle" font-size="16" fill="#262626">50</text>
<path d="M50.5 1231.0 L50.5 1487.0 L356.3 1487.0" fill="none" stroke="#262626" stroke-width="1.6"/>
<text x="17.2" y="1359.00" transform="rotate(-90 17.2 1359.00)" text-anchor="middle" font-size="22.9" fill="#262626">Coherence</text>
<text x="203.40" y="1526.60" text-anchor="middle" font-size="17" letter-spacing="0.3" fill="#262626">Frequency (Hz)</text>
<text x="203.40" y="1224.00" text-anchor="middle" font-size="17.3" font-weight="bold" fill="#000">One Leg</text>
<line x1="203.5" y1="1247.90" x2="223.4" y2="1247.90" stroke="#245a34" stroke-width="1.5"/>
<text x="224.0" y="1255.00" font-size="16.2" fill="#000">Sol-LG</text>
<line x1="203.5" y1="1266.54" x2="223.4" y2="1266.54" stroke="#56ac3e" stroke-width="1.5"/>
<text x="224.0" y="1273.64" font-size="16.2" fill="#000">Sol-PL</text>
<line x1="203.5" y1="1285.18" x2="223.4" y2="1285.18" stroke="#62b446" stroke-width="1.5"/>
<text x="224.0" y="1292.28" font-size="16.2" fill="#000">LG-PL</text>
<line x1="203.5" y1="1303.82" x2="223.4" y2="1303.82" stroke="#2a5038" stroke-width="1.5" stroke-dasharray="4.3 3.5"/>
<text x="224.0" y="1310.92" font-size="16.2" fill="#000">TA-Sol</text>
<line x1="203.5" y1="1322.46" x2="223.4" y2="1322.46" stroke="#58a848" stroke-width="1.5" stroke-dasharray="4.3 3.5"/>
<text x="224.0" y="1329.56" font-size="16.2" fill="#000">TA-LG</text>
<line x1="203.5" y1="1341.10" x2="223.4" y2="1341.10" stroke="#8cbc5c" stroke-width="1.5" stroke-dasharray="4.3 3.5"/>
<text x="224.0" y="1348.20" font-size="16.2" fill="#000">RF-BF</text>
<line x1="203.5" y1="1359.74" x2="223.4" y2="1359.74" stroke="#555" stroke-width="1.1" stroke-dasharray="1 0.75"/>
<text x="224.0" y="1366.84" font-size="16.2" fill="#000">Significance level</text>
<line x1="51.5" y1="1459.41" x2="356.3" y2="1459.41" stroke="#5a5a5a" stroke-width="1.1" stroke-dasharray="1 0.75"/>
<polyline points="50.50,1482.20 56.06,1482.30 61.62,1484.18 67.18,1484.70 72.74,1484.03 78.30,1484.44 83.86,1484.67 89.42,1484.77 94.98,1484.13 100.54,1484.10 106.10,1484.00 111.66,1483.28 117.22,1483.99 122.78,1483.95 128.34,1484.76 133.90,1484.33 139.46,1484.71 145.02,1484.24 150.58,1483.88 156.14,1485.01 161.70,1484.50 167.26,1485.01 172.82,1484.30 178.38,1483.85 183.94,1484.52 189.50,1484.49 195.06,1484.94 200.62,1484.66 206.18,1484.51 211.74,1484.62 217.30,1484.50 222.86,1484.30 228.42,1483.78 233.98,1483.80 239.54,1485.21 245.10,1485.04 250.66,1484.17 256.22,1485.12 261.78,1484.54 267.34,1483.86 272.90,1484.50 278.46,1485.07 284.02,1484.64 289.58,1485.19 295.14,1484.79 300.70,1483.85 306.26,1484.70 311.82,1484.96 317.38,1485.14 322.94,1484.23 328.50,1484.55 334.06,1484.82 339.62,1483.97 345.18,1485.06 350.74,1484.95 356.30,1484.50" fill="none" stroke="#8cbc5c" stroke-width="1.65" stroke-linejoin="round" stroke-dasharray="4.3 3.5"/>
<polyline points="50.50,1436.40 56.06,1438.90 61.62,1445.70 67.18,1457.60 72.74,1464.40 78.30,1471.20 83.86,1469.50 89.42,1473.70 94.98,1476.30 100.54,1472.90 106.10,1474.60 111.66,1476.34 117.22,1475.36 122.78,1478.30 128.34,1475.76 133.90,1473.84 139.46,1473.10 145.02,1474.53 150.58,1474.90 156.14,1476.25 161.70,1473.93 167.26,1475.72 172.82,1474.89 178.38,1476.15 183.94,1477.76 189.50,1476.62 195.06,1478.90 200.62,1478.57 206.18,1480.40 211.74,1481.24 217.30,1481.00 222.86,1478.86 228.42,1476.40 233.98,1474.59 239.54,1475.12 245.10,1474.00 250.66,1477.61 256.22,1479.00 261.78,1475.89 267.34,1477.43 272.90,1475.00 278.46,1478.21 284.02,1480.00 289.58,1479.50 295.14,1478.91 300.70,1481.88 306.26,1479.72 311.82,1478.92 317.38,1479.01 322.94,1481.79 328.50,1480.99 334.06,1481.80 339.62,1481.60 345.18,1480.98 350.74,1482.63 356.30,1481.00" fill="none" stroke="#58a848" stroke-width="1.65" stroke-linejoin="round" stroke-dasharray="4.3 3.5"/>
<polyline points="50.50,1386.60 56.06,1373.00 61.62,1391.00 67.18,1412.50 72.74,1437.00 78.30,1447.00 83.86,1443.10 89.42,1443.10 94.98,1452.50 100.54,1466.00 106.10,1472.00 111.66,1467.00 117.22,1469.50 122.78,1468.00 128.34,1466.20 133.90,1465.97 139.46,1465.63 145.02,1465.60 150.58,1467.00 156.14,1474.90 161.70,1477.20 167.26,1478.21 172.82,1476.51 178.38,1476.43 183.94,1475.46 189.50,1474.36 195.06,1474.30 200.62,1473.68 206.18,1471.40 211.74,1471.01 217.30,1471.08 222.86,1469.40 228.42,1466.20 233.98,1472.70 239.54,1474.36 245.10,1476.07 250.66,1475.71 256.22,1477.00 261.78,1474.76 267.34,1473.74 272.90,1474.00 278.46,1476.80 284.02,1478.00 289.58,1476.88 295.14,1478.71 300.70,1478.67 306.26,1476.72 311.82,1479.41 317.38,1476.78 322.94,1479.86 328.50,1479.84 334.06,1477.67 339.62,1479.58 345.18,1479.68 350.74,1477.57 356.30,1479.00" fill="none" stroke="#2a5038" stroke-width="1.65" stroke-linejoin="round" stroke-dasharray="4.3 3.5"/>
<polyline points="50.50,1454.20 56.06,1447.00 61.62,1452.50 67.18,1458.40 72.74,1461.80 78.30,1461.80 83.86,1463.00 89.42,1461.00 94.98,1457.20 100.54,1453.30 106.10,1459.30 111.66,1456.70 117.22,1457.80 122.78,1462.40 128.34,1459.20 133.90,1459.20 139.46,1457.30 145.02,1459.60 150.58,1463.50 156.14,1468.50 161.70,1466.50 167.26,1466.20 172.82,1469.10 178.38,1469.70 183.94,1470.50 189.50,1471.40 195.06,1466.90 200.62,1459.00 206.18,1454.40 211.74,1447.40 217.30,1446.90 222.86,1444.50 228.42,1441.40 233.98,1441.40 239.54,1441.40 245.10,1448.00 250.66,1450.90 256.22,1454.40 261.78,1461.10 267.34,1464.20 272.90,1467.10 278.46,1470.00 284.02,1469.20 289.58,1470.80 295.14,1472.30 300.70,1472.90 306.26,1476.40 311.82,1476.60 317.38,1476.10 322.94,1475.80 328.50,1476.40 334.06,1476.40 339.62,1475.20 345.18,1476.60 350.74,1478.70 356.30,1479.60" fill="none" stroke="#245a34" stroke-width="1.65" stroke-linejoin="round"/>
<polyline points="50.50,1238.90 53.28,1240.80 56.06,1243.70 58.84,1252.50 61.62,1264.50 64.40,1280.00 67.18,1297.50 69.96,1326.00 72.74,1355.00 75.52,1369.00 78.30,1376.60 83.86,1389.50 89.42,1412.50 94.98,1434.00 100.54,1438.40 106.10,1439.20 111.66,1439.70 117.22,1434.30 122.78,1438.40 128.34,1435.50 133.90,1427.40 139.46,1415.30 145.02,1415.60 150.58,1424.50 156.14,1432.60 161.70,1436.10 167.26,1440.20 172.82,1448.30 178.38,1449.20 183.94,1441.30 189.50,1449.40 195.06,1449.30 200.62,1449.80 206.18,1447.30 211.74,1442.60 217.30,1441.90 222.86,1444.50 228.42,1448.60 233.98,1439.90 239.54,1433.50 245.10,1447.20 250.66,1442.80 256.22,1445.10 261.78,1442.20 267.34,1439.90 272.90,1443.40 278.46,1447.30 284.02,1436.40 289.58,1444.90 295.14,1444.50 300.70,1440.50 306.26,1443.40 311.82,1449.50 317.38,1443.40 322.94,1445.10 328.50,1446.90 334.06,1445.70 339.62,1450.90 345.18,1457.30 350.74,1459.90 356.30,1457.30" fill="none" stroke="#56ac3e" stroke-width="1.65" stroke-linejoin="round"/>
<polyline points="50.50,1440.60 56.06,1439.70 61.62,1449.10 67.18,1458.40 72.74,1465.20 78.30,1466.90 83.86,1455.00 89.42,1461.80 94.98,1464.40 100.54,1468.60 106.10,1468.60 111.66,1469.50 117.22,1468.70 122.78,1469.00 128.34,1473.10 133.90,1472.00 139.46,1469.70 145.02,1469.70 150.58,1466.20 156.14,1475.40 161.70,1473.10 167.26,1474.90 172.82,1476.30 178.38,1476.60 183.94,1477.40 189.50,1478.30 195.06,1476.60 200.62,1476.60 206.18,1476.40 211.74,1475.20 217.30,1470.80 222.86,1470.30 228.42,1470.80 233.98,1472.30 239.54,1474.00 245.10,1470.30 250.66,1471.10 256.22,1473.50 261.78,1477.50 267.34,1475.20 272.90,1472.30 278.46,1476.40 284.02,1478.40 289.58,1476.60 295.14,1475.80 300.70,1478.70 306.26,1477.30 311.82,1478.70 317.38,1478.40 322.94,1477.70 328.50,1475.40 334.06,1473.80 339.62,1476.60 345.18,1479.20 350.74,1479.80 356.30,1480.40" fill="none" stroke="#62b446" stroke-width="1.65" stroke-linejoin="round"/>
<line x1="471.3" y1="1487.00" x2="474.90000000000003" y2="1487.00" stroke="#262626" stroke-width="1.3"/>
<text x="466.10" y="1493.50" text-anchor="end" font-size="16" fill="#262626">0</text>
<line x1="471.3" y1="1450.43" x2="474.90000000000003" y2="1450.43" stroke="#262626" stroke-width="1.3"/>
<text x="466.10" y="1456.93" text-anchor="end" font-size="16" fill="#262626">0.01</text>
<line x1="471.3" y1="1413.86" x2="474.90000000000003" y2="1413.86" stroke="#262626" stroke-width="1.3"/>
<text x="466.10" y="1420.36" text-anchor="end" font-size="16" fill="#262626">0.02</text>
<line x1="471.3" y1="1377.29" x2="474.90000000000003" y2="1377.29" stroke="#262626" stroke-width="1.3"/>
<text x="466.10" y="1383.79" text-anchor="end" font-size="16" fill="#262626">0.03</text>
<line x1="471.3" y1="1340.71" x2="474.90000000000003" y2="1340.71" stroke="#262626" stroke-width="1.3"/>
<text x="466.10" y="1347.21" text-anchor="end" font-size="16" fill="#262626">0.04</text>
<line x1="471.3" y1="1304.14" x2="474.90000000000003" y2="1304.14" stroke="#262626" stroke-width="1.3"/>
<text x="466.10" y="1310.64" text-anchor="end" font-size="16" fill="#262626">0.05</text>
<line x1="471.3" y1="1267.57" x2="474.90000000000003" y2="1267.57" stroke="#262626" stroke-width="1.3"/>
<text x="466.10" y="1274.07" text-anchor="end" font-size="16" fill="#262626">0.06</text>
<line x1="471.3" y1="1231.00" x2="474.90000000000003" y2="1231.00" stroke="#262626" stroke-width="1.3"/>
<text x="466.10" y="1237.50" text-anchor="end" font-size="16" fill="#262626">0.07</text>
<line x1="471.30" y1="1487.0" x2="471.30" y2="1483.4" stroke="#262626" stroke-width="1.3"/>
<text x="471.30" y="1507.20" text-anchor="middle" font-size="16" fill="#262626">0</text>
<line x1="526.88" y1="1487.0" x2="526.88" y2="1483.4" stroke="#262626" stroke-width="1.3"/>
<text x="526.88" y="1507.20" text-anchor="middle" font-size="16" fill="#262626">10</text>
<line x1="582.46" y1="1487.0" x2="582.46" y2="1483.4" stroke="#262626" stroke-width="1.3"/>
<text x="582.46" y="1507.20" text-anchor="middle" font-size="16" fill="#262626">20</text>
<line x1="638.05" y1="1487.0" x2="638.05" y2="1483.4" stroke="#262626" stroke-width="1.3"/>
<text x="638.05" y="1507.20" text-anchor="middle" font-size="16" fill="#262626">30</text>
<line x1="693.63" y1="1487.0" x2="693.63" y2="1483.4" stroke="#262626" stroke-width="1.3"/>
<text x="693.63" y="1507.20" text-anchor="middle" font-size="16" fill="#262626">40</text>
<line x1="749.21" y1="1487.0" x2="749.21" y2="1483.4" stroke="#262626" stroke-width="1.3"/>
<text x="749.21" y="1507.20" text-anchor="middle" font-size="16" fill="#262626">50</text>
<path d="M471.3 1231.0 L471.3 1487.0 L779.0 1487.0" fill="none" stroke="#262626" stroke-width="1.6"/>
<text x="428.3" y="1359.00" transform="rotate(-90 428.3 1359.00)" text-anchor="middle" font-size="22.9" fill="#262626">Pooled Coherence</text>
<text x="624.15" y="1526.60" text-anchor="middle" font-size="17" letter-spacing="0.3" fill="#262626">Frequency (Hz)</text>
<line x1="472.3" y1="1426.66" x2="777.0" y2="1426.66" stroke="#555" stroke-width="1" stroke-dasharray="1 0.75"/>
<polyline points="471.30,1390.30 476.86,1368.20 482.42,1374.60 487.97,1365.40 493.53,1379.10 499.09,1408.00 504.65,1395.20 510.21,1401.60 515.77,1427.30 521.32,1448.20 526.88,1435.30 532.44,1430.50 538.00,1431.80 543.56,1433.40 549.11,1430.80 554.67,1429.20 560.23,1429.70 565.79,1439.30 571.35,1445.80 576.91,1450.10 582.46,1447.50 588.02,1450.00 593.58,1453.20 599.14,1453.50 604.70,1455.60 610.25,1450.80 615.81,1446.00 621.37,1452.90 626.93,1441.10 632.49,1456.10 638.05,1449.20 643.60,1438.70 649.16,1435.50 654.72,1453.20 660.28,1446.80 665.84,1427.50 671.39,1439.50 676.95,1459.60 682.51,1465.20 688.07,1462.00 693.63,1451.20 699.19,1456.90 704.74,1457.60 710.30,1464.70 715.86,1456.70 721.42,1452.80 726.98,1447.90 732.53,1464.10 738.09,1454.50 743.65,1446.00 749.21,1450.50 754.77,1448.80 760.33,1464.10 765.88,1469.70 771.44,1467.50 777.00,1466.30" fill="none" stroke="#58ae3e" stroke-width="1.65" stroke-linejoin="round" stroke-dasharray="4.3 3.5"/>
<polyline points="471.30,1373.00 476.86,1371.90 482.42,1359.50 487.97,1359.00 493.53,1386.80 499.09,1383.60 504.65,1396.80 510.21,1429.70 515.77,1412.80 521.32,1396.80 526.88,1381.00 532.44,1384.70 538.00,1365.40 543.56,1383.10 549.11,1383.90 554.67,1363.00 560.23,1337.00 565.79,1350.50 571.35,1352.10 576.91,1383.90 582.46,1396.30 588.02,1397.00 593.58,1420.70 599.14,1423.50 604.70,1421.90 610.25,1433.90 615.81,1420.20 621.37,1422.30 626.93,1409.80 632.49,1403.40 638.05,1379.30 643.60,1388.90 649.16,1413.00 654.72,1403.70 660.28,1395.00 665.84,1408.50 671.39,1407.90 676.95,1417.00 682.51,1431.50 688.07,1420.70 693.63,1408.20 699.19,1431.20 704.74,1426.10 710.30,1432.40 715.86,1436.90 721.42,1430.70 726.98,1427.30 732.53,1452.40 738.09,1440.90 743.65,1436.40 749.21,1434.70 754.77,1429.60 760.33,1443.20 765.88,1457.90 771.44,1464.70 777.00,1461.30" fill="none" stroke="#58ae3e" stroke-width="1.65" stroke-linejoin="round"/>
<line x1="624.3" y1="1248.00" x2="644.0" y2="1248.00" stroke="#58ae3e" stroke-width="1.5"/>
<text x="645.7" y="1254.20" font-size="16.2" fill="#000">AG-AG pairs</text>
<line x1="624.3" y1="1266.70" x2="644.0" y2="1266.70" stroke="#58ae3e" stroke-width="1.5" stroke-dasharray="4.3 3.5"/>
<text x="645.7" y="1272.90" font-size="16.2" fill="#000">AG-ANT pairs</text>
<line x1="624.3" y1="1285.40" x2="644.0" y2="1285.40" stroke="#555" stroke-width="1.1" stroke-dasharray="1 0.75"/>
<text x="645.7" y="1291.60" font-size="16.2" fill="#000">Significance level</text>
</svg>
</body></html>
